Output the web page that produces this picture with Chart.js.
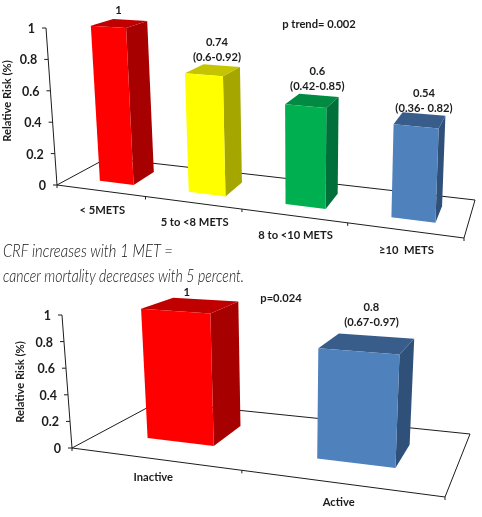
<!DOCTYPE html>
<html>
<head>
<meta charset="utf-8">
<script src="https://cdn.jsdelivr.net/npm/chart.js@4"></script>
<style>
  html, body { margin: 0; padding: 0; background: #fff; }
  body { position: relative; width: 482px; height: 517px; overflow: hidden; }
  canvas { position: absolute; left: 0; filter: blur(0.35px); }
  #metsChart { top: 0; }
  #activityChart { top: 262px; }
  .note { position: absolute; left: 3px; white-space: nowrap; color: #111;
          font: italic 300 17px Lato, sans-serif; transform-origin: left bottom; }
  #note1 { top: 240px; transform: scaleX(0.87); }
  #note2 { top: 265px; transform: scaleX(0.825); }
</style>
</head>
<body>
<canvas id="metsChart" width="482" height="262"></canvas>
<canvas id="activityChart" width="482" height="255"></canvas>
<div class="note" id="note1">CRF increases with 1 MET =</div>
<div class="note" id="note2">cancer mortality decreases with 5 percent.</div>

<script>
const metsLabels = ['< 5METS', '5 to <8 METS', '8 to <10 METS', '≥10  METS'];
const metsValues = [1, 0.74, 0.6, 0.54];
const metsCI = ['', '(0.6-0.92)', '(0.42-0.85)', '(0.36- 0.82)'];
const metsColors = ['#ff0000', '#ffff00', '#00b050', '#4f81bd'];

const activityLabels = ['Inactive', 'Active'];
const activityValues = [1, 0.8];
const activityCI = ['', '(0.67-0.97)'];
const activityColors = ['#ff0000', '#4f81bd'];

const axisTicks = [0, 0.2, 0.4, 0.6, 0.8, 1];
const axisTitle = 'Relative Risk (%)';

// side and top shades of the bar colours
const sideShade = { '#ff0000': '#a60000', '#ffff00': '#a6a600', '#00b050': '#00703a', '#4f81bd': '#2f5079' };
const topShade = { '#ff0000': '#c00000', '#ffff00': '#c4c400', '#00b050': '#008a42', '#4f81bd': '#385d8a' };

const FONT = 'bold 11.2px Lato, sans-serif';
const TICK_FONT = 'bold 12.5px Lato, sans-serif';
const INK = '#1c1c1c';

// square -> floor quad, corners are front left, front right, back right, back left
function floorMap(c) {
  const [p0, p1, p2, p3] = c;
  const dx1 = p1[0] - p2[0], dx2 = p3[0] - p2[0], sx = p0[0] - p1[0] + p2[0] - p3[0];
  const dy1 = p1[1] - p2[1], dy2 = p3[1] - p2[1], sy = p0[1] - p1[1] + p2[1] - p3[1];
  const den = dx1 * dy2 - dx2 * dy1;
  const g = (sx * dy2 - dx2 * sy) / den;
  const h = (dx1 * sy - sx * dy1) / den;
  return (u, v) => {
    const w = 1 + g * u + h * v;
    return {
      x: (p0[0] + (p1[0] - p0[0] + g * p1[0]) * u + (p3[0] - p0[0] + h * p3[0]) * v) / w,
      y: (p0[1] + (p1[1] - p0[1] + g * p1[1]) * u + (p3[1] - p0[1] + h * p3[1]) * v) / w,
      w: w
    };
  };
}

function poly(ctx, pts, fill) {
  ctx.beginPath();
  pts.forEach((p, i) => i ? ctx.lineTo(p.x, p.y) : ctx.moveTo(p.x, p.y));
  ctx.closePath();
  ctx.fillStyle = fill;
  ctx.fill();
}

// draws bars and axes in perspective, positions come from the chart scales
const perspective = {
  id: 'perspective',
  beforeDatasetsDraw(chart, args, opts) {
    const ctx = chart.ctx;
    const area = chart.chartArea;
    const yScale = chart.scales.y;
    const xScale = chart.scales.x;
    const floor = floorMap(opts.corners);
    const uOf = px => (px - area.left) / (area.right - area.left);
    const frac = val => (area.bottom - yScale.getPixelForValue(val)) / area.height;
    const lift = (p, f) => ({
      x: p.x + (p.x - opts.leanFrom) * opts.lean * f,
      y: p.y - area.height / Math.pow(p.w, 0.8) * f
    });

    ctx.save();
    ctx.strokeStyle = INK;
    ctx.lineWidth = 1;
    ctx.fillStyle = INK;
    ctx.font = FONT;

    // floor outline
    ctx.beginPath();
    opts.corners.forEach((p, i) => i ? ctx.lineTo(p[0], p[1]) : ctx.moveTo(p[0], p[1]));
    ctx.closePath();
    ctx.stroke();

    // category ticks on the front edge and their labels
    const n = xScale.getLabels().length;
    for (let i = 0; i <= n; i++) {
      const p = floor(i / n, 0);
      ctx.beginPath();
      ctx.moveTo(p.x, p.y);
      ctx.lineTo(p.x, p.y + 3);
      ctx.stroke();
    }
    ctx.textAlign = 'center';
    ctx.textBaseline = 'middle';
    xScale.getLabels().forEach((label, i) => {
      const p = floor(uOf(xScale.getPixelForValue(i)), 0);
      ctx.fillText(label, p.x + opts.catOffset[0], p.y + opts.catOffset[1]);
    });

    // value axis
    const o = floor(0, 0);
    const top = lift(o, 1);
    ctx.beginPath();
    ctx.moveTo(o.x, o.y);
    ctx.lineTo(top.x, top.y);
    ctx.stroke();
    ctx.textAlign = 'right';
    ctx.font = TICK_FONT;
    yScale.ticks.forEach(t => {
      const p = lift(o, frac(t.value));
      ctx.beginPath();
      ctx.moveTo(p.x - 4, p.y);
      ctx.lineTo(p.x, p.y);
      ctx.stroke();
      ctx.fillText(t.label, p.x - 11, p.y + 1);
    });
    ctx.font = FONT;

    // axis title
    ctx.save();
    ctx.translate(opts.titleAt[0], opts.titleAt[1]);
    ctx.rotate(-Math.PI / 2);
    ctx.textAlign = 'center';
    ctx.fillText(axisTitle, 0, 0);
    ctx.restore();

    // bars
    const meta = chart.getDatasetMeta(0);
    const ds = chart.data.datasets[0];
    meta.data.forEach((bar, i) => {
      const u0 = uOf(bar.x - bar.width / 2) + opts.uShift;
      const u1 = uOf(bar.x + bar.width / 2) + opts.uShift;
      const f = (bar.base - bar.y) / area.height;
      const fl = floor(u0, opts.depth[0]), fr = floor(u1, opts.depth[0]);
      const br = floor(u1, opts.depth[1]), bl = floor(u0, opts.depth[1]);
      const color = ds.backgroundColor[i];
      poly(ctx, [fr, br, lift(br, f), lift(fr, f)], sideShade[color]);
      poly(ctx, [lift(fl, f), lift(fr, f), lift(br, f), lift(bl, f)], topShade[color]);
      poly(ctx, [fl, fr, lift(fr, f), lift(fl, f)], color);

      // value label, with the confidence interval under it
      const c = lift(floor((u0 + u1) / 2, (opts.depth[0] + opts.depth[1]) / 2), f);
      const off = opts.labelOffset[i];
      ctx.fillStyle = INK;
      ctx.textAlign = 'center';
      const ci = ds.ci[i];
      if (ci) {
        ctx.fillText(ci, c.x + off[0], c.y + off[1]);
        ctx.fillText(ds.data[i], c.x + off[0], c.y + off[1] - 15);
      } else {
        ctx.fillText(ds.data[i], c.x + off[0], c.y + off[1]);
      }
    });

    // p value
    ctx.fillStyle = INK;
    ctx.textAlign = 'center';
    ctx.fillText(opts.pText, opts.pAt[0], opts.pAt[1]);
    ctx.restore();
    return false;
  }
};

function barChart(id, labels, values, ci, colors, barPct, padding, opts) {
  return new Chart(document.getElementById(id), {
    type: 'bar',
    data: {
      labels: labels,
      datasets: [{ data: values, ci: ci, backgroundColor: colors, categoryPercentage: 1, barPercentage: barPct }]
    },
    options: {
      responsive: false,
      animation: false,
      events: [],
      layout: { padding: padding },
      scales: {
        x: { display: false },
        y: {
          display: false,
          min: 0,
          max: 1,
          afterBuildTicks: axis => { axis.ticks = axisTicks.map(v => ({ value: v })); },
          ticks: { callback: v => String(v) }
        }
      },
      plugins: {
        legend: { display: false },
        tooltip: { enabled: false },
        perspective: opts
      }
    },
    plugins: [perspective]
  });
}

barChart('metsChart', metsLabels, metsValues, metsCI, metsColors, 0.39,
  { left: 57, right: 18, top: 28, bottom: 77 },
  {
    corners: [[57, 185], [464, 238], [475, 200], [107, 158]],
    depth: [0.27, 0.72],
    uShift: 0.008,
    leanFrom: 302,
    lean: 0.0448,
    catOffset: [2, 20],
    titleAt: [7, 101],
    labelOffset: [[-1, -13], [4, -13], [5, -14], [4, -12]],
    pText: 'p trend= 0.002',
    pAt: [319, 24]
  });

barChart('activityChart', activityLabels, activityValues, activityCI, activityColors, 0.41,
  { left: 72, right: 37, top: 53, bottom: 69 },
  {
    corners: [[72, 186], [445, 235], [470, 172], [158, 140]],
    depth: [0.3, 0.69],
    uShift: 0.004,
    leanFrom: 287,
    lean: 0.0466,
    catOffset: [0, 19],
    titleAt: [20, 120],
    labelOffset: [[-4, -13], [4, -21]],
    pText: 'p=0.024',
    pAt: [281, 36]
  });
</script>
</body>
</html>
